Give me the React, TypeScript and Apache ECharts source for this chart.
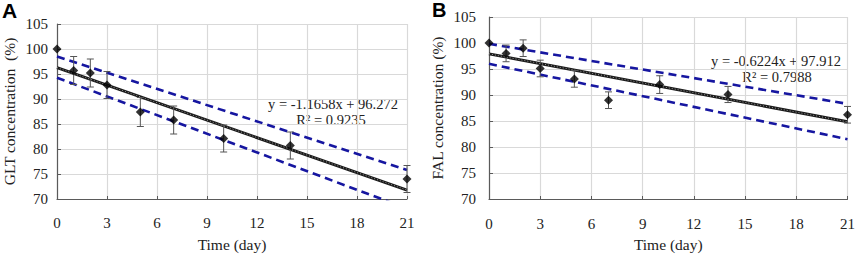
import React, { useEffect, useRef } from "react";
import * as echarts from "echarts";

// ---- data ----
const days = [0, 1, 2, 3, 5, 7, 10, 14, 21];
const gltMean = [100, 95.7, 95.2, 92.8, 87.4, 85.8, 82.1, 80.7, 74.0];
const gltErr = [0, 2.8, 2.8, 2.7, 2.9, 2.8, 2.7, 2.7, 2.7];
const falMean = [100, 98.0, 99.0, 95.1, 93.1, 89.0, 92.0, 90.1, 86.2];
const falErr = [0, 1.6, 1.6, 1.6, 1.6, 1.6, 1.7, 1.55, 1.6];

const fitDays = [0, 21];
const gltFit = [96.272, 71.79];
const gltUpper = [98.5, 75.8];
const gltLower = [94.25, 68.1];
const falFit = [97.912, 84.842];
const falUpper = [99.85, 88.3];
const falLower = [96.0, 81.5];

const xMin = 0, xMax = 21, xStep = 3;
const yMin = 70, yMax = 105, yStep = 5;

const gltEquation = ["y = -1.1658x + 96.272", "R² = 0.9235"];
const falEquation = ["y = -0.6224x + 97.912", "R² = 0.7988"];
const gltTitle = "GLT concentration  (%)";
const falTitle = "FAL concentration (%)";
const xTitle = "Time (day)";

const SERIF = "Liberation Serif, Times New Roman, serif";
const AXIS = "#5a5a5a";
const GRID = "#d9d9d9";
const BLUE = "#1616a0";

function pairs(xs: number[], ys: number[]) {
  return xs.map((x, i) => [x, ys[i]]);
}

function errorRender(params: any, api: any) {
  const x = api.value(0);
  const lo = api.value(1);
  const hi = api.value(2);
  if (hi - lo <= 0) return { type: "group", children: [] };
  const top = api.coord([x, hi]);
  const bot = api.coord([x, lo]);
  const cap = 3.5;
  const style = { stroke: "#555", lineWidth: 1 };
  return {
    type: "group",
    children: [
      { type: "line", shape: { x1: top[0], y1: top[1], x2: bot[0], y2: bot[1] }, style },
      { type: "line", shape: { x1: top[0] - cap, y1: top[1], x2: top[0] + cap, y2: top[1] }, style },
      { type: "line", shape: { x1: bot[0] - cap, y1: bot[1], x2: bot[0] + cap, y2: bot[1] }, style },
    ],
  };
}

function panelAxes(idx: number, yName: string, cfg: any) {
  const xAxis = {
    type: "value",
    gridIndex: idx,
    min: xMin,
    max: xMax,
    interval: xStep,
    name: xTitle,
    nameLocation: "middle",
    nameGap: cfg.xNameGap,
    nameTextStyle: { fontFamily: SERIF, fontSize: 15.5, color: "#222" },
    axisLine: { show: true, onZero: false, lineStyle: { color: AXIS, width: 1.2 } },
    axisTick: { show: true, inside: true, length: 3, lineStyle: { color: AXIS } },
    axisLabel: { fontFamily: SERIF, fontSize: 15, color: "#222", margin: cfg.xLabelMargin },
    splitLine: { show: true, lineStyle: { color: GRID, width: 1.2 } },
  };
  const yAxis = {
    type: "value",
    gridIndex: idx,
    min: yMin,
    max: yMax,
    interval: yStep,
    name: yName,
    nameLocation: "middle",
    nameGap: cfg.yNameGap,
    nameRotate: 90,
    nameTextStyle: { fontFamily: SERIF, fontSize: 15.5, color: "#222" },
    axisLine: { show: true, onZero: false, lineStyle: { color: AXIS, width: 1.2 } },
    axisTick: { show: true, inside: true, length: 4, lineStyle: { color: AXIS } },
    axisLabel: { fontFamily: SERIF, fontSize: 15, color: "#222", margin: cfg.yLabelMargin },
    splitLine: { show: true, lineStyle: { color: GRID, width: 1.2 } },
  };
  return { xAxis, yAxis };
}

function panelSeries(idx: number, mean: number[], err: number[], fit: number[], upper: number[], lower: number[]) {
  const base = { xAxisIndex: idx, yAxisIndex: idx };
  const dashed = {
    ...base,
    type: "line",
    showSymbol: false,
    symbol: "none",
    clip: true,
    silent: true,
    lineStyle: { color: BLUE, width: 2.6, type: [8, 5] },
  };
  return [
    { ...dashed, data: pairs(fitDays, upper), z: 2 },
    { ...dashed, data: pairs(fitDays, lower), z: 2 },
    {
      ...base,
      type: "line",
      symbol: "none",
      silent: true,
      clip: true,
      data: pairs(fitDays, fit),
      lineStyle: { color: "#1a1a1a", width: 3 },
      z: 3,
    },
    {
      ...base,
      type: "line",
      symbol: "none",
      silent: true,
      clip: true,
      data: pairs(fitDays, fit),
      lineStyle: { color: "#9a9a9a", width: 1, type: [1, 2] },
      z: 4,
    },
    {
      ...base,
      type: "custom",
      renderItem: errorRender,
      encode: { x: 0, y: [1, 2] },
      data: days.map((d, i) => [d, mean[i] - err[i], mean[i] + err[i]]),
      z: 5,
    },
    {
      ...base,
      type: "scatter",
      symbol: "diamond",
      symbolSize: 9,
      itemStyle: { color: "#000" },
      data: pairs(days, mean),
      z: 6,
    },
  ];
}

export default function App() {
  const ref = useRef<HTMLDivElement>(null);
  useEffect(() => {
    if (!ref.current) return;
    const chart = echarts.init(ref.current, undefined, { renderer: "svg" });
    const a = panelAxes(0, gltTitle, { xNameGap: 37, xLabelMargin: 16, yNameGap: 40, yLabelMargin: 9 });
    const b = panelAxes(1, falTitle, { xNameGap: 37, xLabelMargin: 17, yNameGap: 44, yLabelMargin: 13 });
    const eqStyle = { fontFamily: SERIF, fontSize: 14.5, fill: "#222", align: "center", verticalAlign: "middle" };
    chart.setOption({
      animation: false,
      backgroundColor: "#fff",
      grid: [
        { left: 56, top: 24, width: 351, height: 182 },
        { left: 489, top: 17, width: 361, height: 191 },
      ],
      xAxis: [a.xAxis, b.xAxis],
      yAxis: [a.yAxis, b.yAxis],
      series: [
        ...panelSeries(0, gltMean, gltErr, gltFit, gltUpper, gltLower),
        ...panelSeries(1, falMean, falErr, falFit, falUpper, falLower),
      ],
      graphic: [
        { type: "text", left: 2, top: 0, style: { text: "A", fontFamily: "Liberation Sans, Arial, sans-serif", fontWeight: "bold", fontSize: 21, fill: "#000" } },
        { type: "text", left: 432, top: 0, style: { text: "B", fontFamily: "Liberation Sans, Arial, sans-serif", fontWeight: "bold", fontSize: 20, fill: "#000" } },
        { type: "text", x: 333, y: 104, style: { ...eqStyle, text: gltEquation[0] } },
        { type: "text", x: 331, y: 120, style: { ...eqStyle, text: gltEquation[1] } },
        { type: "text", x: 776, y: 61, style: { ...eqStyle, text: falEquation[0] } },
        { type: "text", x: 777, y: 77, style: { ...eqStyle, text: falEquation[1] } },
      ],
    });
    return () => chart.dispose();
  }, []);
  return (
    <div
      ref={ref}
      style={{ position: "fixed", left: 0, top: 0, width: 858, height: 257, background: "#fff" }}
    />
  );
}
